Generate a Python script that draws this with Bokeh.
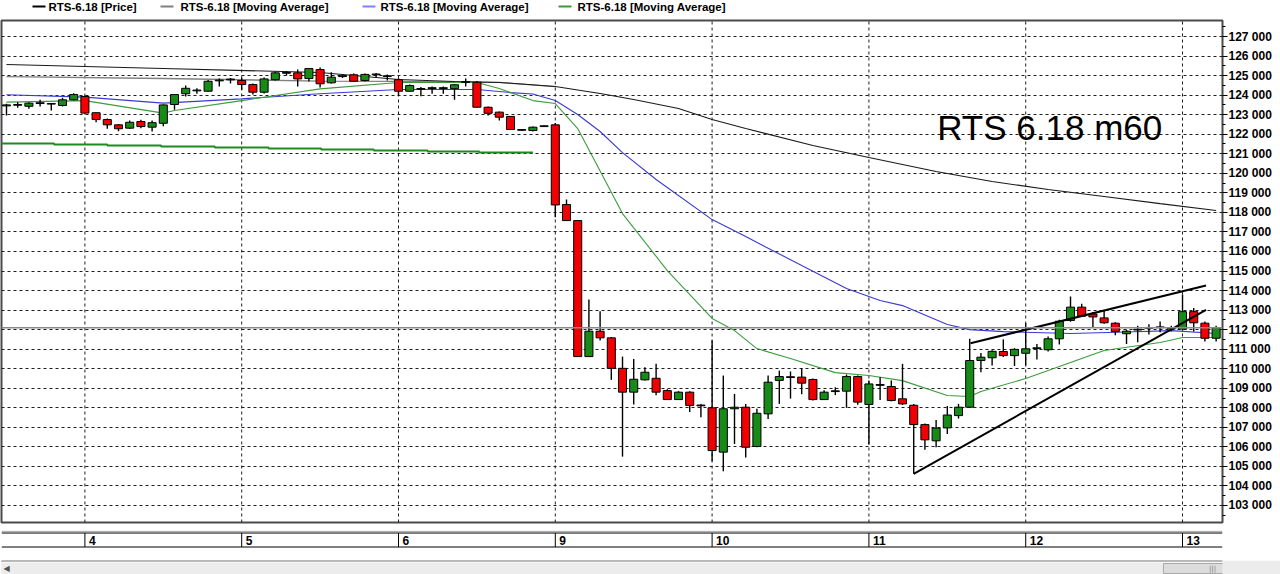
from bokeh.plotting import figure
from bokeh.models import Range1d, FixedTicker, Span, Label, ColumnDataSource
from bokeh.layouts import column
from bokeh.embed import file_html
from bokeh.resources import INLINE
from bokeh.core.properties import value

# ---------------- data ----------------
day_labels = ["4", "5", "6", "9", "10", "11", "12", "13"]
day_first_idx = [7, 21, 35, 49, 63, 77, 91, 105]

opens = [123450, 123480, 123430, 123570, 123570, 123470, 123760, 123930, 123100, 122750,
         122480, 122310, 122650, 122360, 122560, 123520, 124070, 124220, 124200, 124730,
         124780, 124750, 124540, 124150, 124790, 125120, 125140, 124850, 125310, 124630,
         124950, 125040, 124750, 125040, 124950, 124790, 124200, 124300, 124340, 124340,
         124330, 124650, 124660, 123380, 123130, 122910, 122200, 122190, 122390, 122480,
         118400, 117580, 110620, 111920, 111580, 110020, 108800, 109430, 109510, 108880,
         108420, 108800, 108100, 108000, 105730, 107950, 108030, 106020, 107690, 109400,
         109550, 109570, 109450, 108420, 108830, 108850, 109600, 108170, 109150, 109090,
         108460, 108130, 107140, 106310, 106970, 107600, 108030, 110420, 110560, 110880,
         110670, 110790, 111030, 110970, 111530, 112470, 113150, 112800, 112600, 112330,
         111790, 111980, 112070, 112100, 112040, 112030, 112920, 112330, 111560]
highs = [123560, 123640, 123640, 123760, 123600, 123860, 124100, 123980, 123110, 122800,
         122520, 122700, 122740, 122700, 123520, 124060, 124490, 124350, 124770, 124850,
         124880, 124890, 124590, 124900, 125210, 125230, 125310, 125390, 125410, 125170,
         125060, 125110, 125110, 125130, 125060, 124870, 124540, 124420, 124440, 124440,
         124570, 124850, 124720, 123420, 123160, 122930, 122270, 122390, 122450, 122580,
         118660, 117600, 113540, 112940, 111620, 110620, 110500, 110080, 110250, 108950,
         108850, 108850, 108200, 111440, 109650, 108710, 108200, 107950, 109650, 109900,
         109860, 110040, 109500, 108900, 109050, 109700, 109650, 109400, 109560, 109400,
         110250, 108200, 107200, 107380, 108090, 108200, 111530, 110800, 110950, 111500,
         111050, 112330, 111270, 111650, 112500, 113690, 113330, 112900, 112980, 112380,
         112000, 112200, 112270, 112410, 112200, 113800, 113110, 112410, 112200]
lows = [122960, 123350, 123300, 123420, 123210, 123420, 123725, 123060, 122610, 122280,
        122150, 122270, 122310, 122140, 122410, 123250, 123930, 124070, 124190, 124440,
        124590, 124270, 124030, 124080, 124750, 125000, 124440, 124700, 124390, 124590,
        124880, 124670, 124700, 124900, 124750, 123980, 124190, 123940, 124070, 124070,
        123760, 124440, 123370, 122960, 122700, 122210, 122160, 122140, 122370, 117750,
        117560, 110600, 110600, 111440, 109430, 105500, 108170, 109400, 108640, 108400,
        108400, 107780, 107520, 105260, 104750, 106150, 105450, 105980, 107430, 108200,
        108470, 108690, 108370, 108400, 108650, 108000, 108150, 106120, 108400, 108330,
        108150, 104620, 105850, 105980, 106660, 107450, 108000, 109820, 110160, 110600,
        110140, 110160, 110470, 110880, 111240, 112400, 112640, 112120, 112300, 111710,
        111270, 111360, 111750, 111870, 111920, 111950, 111900, 111390, 111390]
closes = [123500, 123520, 123590, 123610, 123540, 123760, 124030, 123080, 122750, 122480,
          122280, 122610, 122390, 122590, 123500, 124030, 124350, 124260, 124710, 124770,
          124820, 124540, 124150, 124830, 125140, 125160, 124830, 125360, 124580, 124920,
          124990, 124710, 125060, 125080, 124990, 124200, 124490, 124340, 124380, 124380,
          124530, 124690, 123380, 123070, 122870, 122240, 122240, 122360, 122430, 118380,
          117580, 110620, 111920, 111580, 110020, 108800, 109460, 109820, 108800, 108420,
          108800, 108120, 108140, 105810, 107950, 108030, 105980, 107720, 109310, 109600,
          109590, 109260, 108420, 108800, 108870, 109600, 108290, 109220, 109190, 108370,
          108200, 107140, 106360, 106960, 107630, 108030, 110420, 110590, 110890, 110670,
          110990, 111020, 111070, 111530, 112430, 113150, 112690, 112650, 112350, 111900,
          111920, 112020, 112110, 112140, 112080, 112920, 112350, 111560, 112100]
last_price = 112100

# moving averages (candle index, price)
ma_black_idx = [0, 14, 28, 35, 40, 44, 49, 53, 56, 60, 63, 66, 72, 77, 83, 88, 93, 98, 103, 108]
ma_black_val = [125570, 125360, 125160, 124800, 124700, 124650, 124440, 124080, 123780, 123315,
                122750, 122290, 121420, 120810, 120090, 119580, 119170, 118810, 118450, 118100]
ma_gray_idx = [0, 14, 28, 35, 44, 49]
ma_gray_val = [124950, 124850, 124720, 124700, 124650, 124440]
ma_blue_idx = [0, 7, 14, 21, 28, 35, 42, 45, 47, 49, 51, 53, 55, 58, 63, 66, 71, 75, 78, 80,
               84, 86, 89, 95, 100, 104, 108]
ma_blue_val = [124020, 123900, 123590, 123810, 124070, 124290, 124290, 124130, 124060, 123725,
               123010, 122140, 121060, 119680, 117630, 116760, 115280, 114100, 113490, 113230,
               112260, 112000, 111900, 111800, 111880, 111950, 111800]
ma_green_idx = [0, 7, 14, 15, 21, 28, 35, 42, 44, 47, 49, 51, 55, 59, 63, 65, 67, 70, 74, 77,
                80, 84, 86, 87, 91, 94, 98, 103, 105, 108]
ma_green_val = [123640, 123720, 123080, 123210, 123720, 124320, 124650, 124650, 124340, 123720,
                123570, 122290, 117940, 115020, 112570, 111950, 111030, 110520, 109800, 109650,
                109390, 108630, 108580, 108830, 109500, 110110, 110930, 111340, 111600, 111600]
slow_step_idx = [-0.6, 4.25, 9.0, 13.8, 18.6, 23.4, 28.1, 32.8, 37.6, 42.2, 47.0]
slow_step_val = [121520, 121470, 121420, 121370, 121320, 121270, 121220, 121170, 121120, 121070, 121070]

# drawn trend lines
trend_x0 = [81.0, 86.07]
trend_y0 = [104620, 111300]
trend_x1 = [107.1, 107.1]
trend_y1 = [113010, 114260]

y_ticks = list(range(103000, 128000, 1000))
y_minor = list(range(102500, 128000, 1000))
y_tick_labels = ["%d %03d" % (t // 1000, t % 1000) for t in y_ticks]

legend_labels = ["RTS-6.18 [Price]", "RTS-6.18 [Moving Average]",
                 "RTS-6.18 [Moving Average]", "RTS-6.18 [Moving Average]"]
legend_colors = ["#000000", "#808080", "#8080ff", "#3a9a3a"]

title_text = "RTS 6.18 m60"
title_idx, title_price = 83.1, 122340

# ---------------- styling / layout ----------------
FONT = "Liberation Sans"
W = 1280
LEFT_B, RIGHT_B = 1, 58
frame_w = W - LEFT_B - RIGHT_B
FR_L, FR_R = LEFT_B, LEFT_B + frame_w          # frame edges in page px
x0r, x1r = -0.446, 108.57
ppi = frame_w / (x1r - x0r)
y_lo, y_hi = 102130, 127819
UP, DOWN = "#178a17", "#f00000"
GRID_C = "#1e1e1e"
TRACK = "#ececec"


def strip(height):
    # a strip whose frame is aligned with the chart frame; x data units = page pixels
    f = figure(width=W, height=height, x_range=Range1d(FR_L, FR_R), y_range=Range1d(height, 0),
               x_axis_location=None, y_axis_location=None, toolbar_location=None,
               output_backend="svg", min_border_left=LEFT_B, min_border_right=RIGHT_B,
               min_border_top=0, min_border_bottom=0)
    f.grid.visible = False
    f.outline_line_color = None
    return f


# legend strip (page y 0..19)
leg = strip(19)
leg_line_x0 = [32, 160, 362, 558]
leg_text_x = [48, 180, 380, 577]
leg.segment(x0=leg_line_x0, y0=6, x1=[v + 13 for v in leg_line_x0], y1=6,
            line_color=legend_colors, line_width=2)
leg.text(x=leg_text_x, y=6.5, text=legend_labels, text_font=value(FONT),
         text_font_size="11.5px", text_font_style="bold", text_baseline="middle",
         text_color="#000000")

# main chart (page y 19..530, frame 20..522)
p = figure(width=W, height=511, x_range=Range1d(x0r, x1r), y_range=Range1d(y_lo, y_hi),
           x_axis_location=None, y_axis_location="right", toolbar_location=None,
           output_backend="svg", min_border_left=LEFT_B, min_border_right=RIGHT_B,
           min_border_top=1, min_border_bottom=8)
p.outline_line_color = "#4a4a4a"
p.outline_line_width = 2
p.xgrid.visible = False
yax = p.yaxis[0]
yax.ticker = FixedTicker(ticks=y_ticks, minor_ticks=y_minor)
yax.major_label_overrides = {t: s for t, s in zip(y_ticks, y_tick_labels)}
yax.axis_line_color = None
yax.major_tick_in = 0
yax.major_tick_out = 5
yax.minor_tick_in = 0
yax.minor_tick_out = 3
yax.major_tick_line_color = "black"
yax.minor_tick_line_color = "black"
yax.major_label_standoff = 1
yax.major_label_text_font = FONT
yax.major_label_text_font_size = "12px"
yax.major_label_text_font_style = "bold"
yax.major_label_text_color = "black"

p.ygrid.ticker = FixedTicker(ticks=y_ticks)
p.ygrid.grid_line_color = GRID_C
p.ygrid.grid_line_dash = "3 3"
p.ygrid.grid_line_width = 1

# day separators (dashed verticals)
p.segment(x0=day_first_idx, y0=y_lo, x1=day_first_idx, y1=y_hi,
          line_color=GRID_C, line_dash="3 3", line_width=1)

# moving averages
p.step(slow_step_idx, slow_step_val, mode="after", line_color="#1f8a1f", line_width=2)
p.line(ma_gray_idx, ma_gray_val, line_color="#808080", line_width=1.3)
p.line(ma_black_idx, ma_black_val, line_color="#1a1a1a", line_width=1.1)
p.line(ma_blue_idx, ma_blue_val, line_color="#3a3ad0", line_width=1.1)
p.line(ma_green_idx, ma_green_val, line_color="#3c9c3c", line_width=1.1)

# last price line
p.add_layout(Span(location=last_price, dimension="width", line_color="#8a8a8a", line_width=1.5))

# candles
idx = list(range(len(opens)))
src = ColumnDataSource(dict(
    x=idx, h=highs, l=lows,
    top=[max(o, c) for o, c in zip(opens, closes)],
    bot=[min(o, c) for o, c in zip(opens, closes)],
    col=[UP if c >= o else DOWN for o, c in zip(opens, closes)],
))
p.segment(x0="x", y0="h", x1="x", y1="l", source=src, line_color="black", line_width=1.4)
p.vbar(x="x", width=0.72, top="top", bottom="bot", fill_color="col",
       line_color="black", line_width=1, source=src)

# trend lines
p.segment(x0=trend_x0, y0=trend_y0, x1=trend_x1, y1=trend_y1, line_color="black", line_width=2)

# title text
p.text(x=[title_idx], y=[title_price], text=[title_text], text_font=value(FONT),
       text_font_size="35px", text_baseline="middle", text_color="black")

# last price box on the axis
p.add_layout(Label(x=x1r + 9 / ppi, y=last_price,
                   text="%d %03d" % (last_price // 1000, last_price % 1000),
                   text_font=FONT, text_font_size="12px", text_font_style="bold",
                   text_baseline="middle", text_align="left", text_color="black",
                   border_line_color="black", border_line_width=1,
                   background_fill_color="white", padding=1))

# date strip (page y 530..560), shares the chart's x scale
dates = figure(width=W, height=30, x_range=p.x_range, y_range=Range1d(30, 0),
               x_axis_location=None, y_axis_location=None, toolbar_location=None,
               output_backend="svg", min_border_left=LEFT_B, min_border_right=RIGHT_B,
               min_border_top=0, min_border_bottom=0)
dates.grid.visible = False
dates.outline_line_color = None
dates.add_layout(Span(location=0.8, dimension="width", line_color="#a0a0a0", line_width=1))
dates.add_layout(Span(location=2.5, dimension="width", line_color="black", line_width=1))
dates.add_layout(Span(location=16.5, dimension="width", line_color="black", line_width=1))
dates.segment(x0=day_first_idx, y0=2.5, x1=day_first_idx, y1=16.5, line_color="black", line_width=1)
dates.text(x=day_first_idx, y=9.8, text=day_labels, x_offset=4, text_font=value(FONT),
           text_font_size="12px", text_font_style="bold", text_baseline="middle",
           text_color="black")

# scrollbar (page y 560..574)
sb = strip(14)
sb.background_fill_color = TRACK
sb.border_fill_color = TRACK
sb.segment(x0=[0], y0=[0.5], x1=[FR_R], y1=[0.5], line_color="black", line_width=1)
sb.segment(x0=[0], y0=[1.5], x1=[FR_R], y1=[1.5], line_color="white", line_width=1)
pad = "\u2007" * 10
sb.add_layout(Label(x=1212, y=8, text=pad + "|||" + pad, text_font="DejaVu Sans",
                    text_font_size="7px", text_color="#7a7a7a", text_align="center",
                    text_baseline="middle", background_fill_color="#dcdcdc",
                    border_line_color="#a8a8a8", border_line_width=1, padding=1))
sb.add_layout(Label(x=3, y=8, text="\u25c0", text_font="DejaVu Sans", text_font_size="8px",
                    text_color="#505050", text_baseline="middle"))
sb.add_layout(Label(x=1267, y=8, text="\u25b6", text_font="DejaVu Sans", text_font_size="8px",
                    text_color="#505050", text_baseline="middle"))

layout = column(leg, p, dates, sb)
open("out.html", "w").write(file_html(layout, INLINE))
